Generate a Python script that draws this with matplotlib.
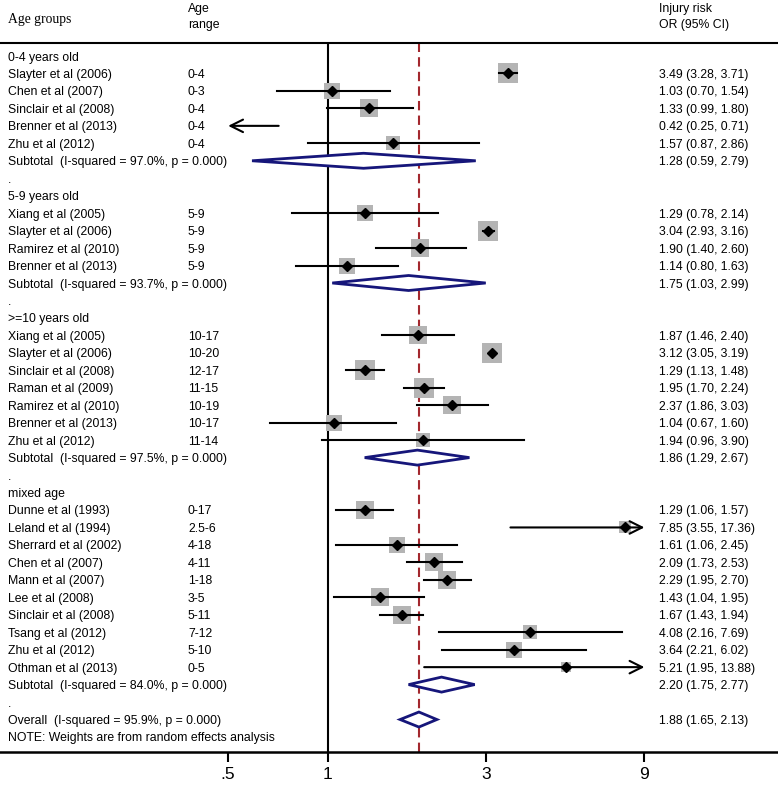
import numpy as np
from matplotlib import pyplot as plt

# study level data
group = ["0-4"] * 5 + ["5-9"] * 4 + [">=10"] * 7 + ["mixed"] * 10
study = ["Slayter et al (2006)", "Chen et al (2007)", "Sinclair et al (2008)", "Brenner et al (2013)", "Zhu et al (2012)",
         "Xiang et al (2005)", "Slayter et al (2006)", "Ramirez et al (2010)", "Brenner et al (2013)",
         "Xiang et al (2005)", "Slayter et al (2006)", "Sinclair et al (2008)", "Raman et al (2009)",
         "Ramirez et al (2010)", "Brenner et al (2013)", "Zhu et al (2012)",
         "Dunne et al (1993)", "Leland et al (1994)", "Sherrard et al (2002)", "Chen et al (2007)", "Mann et al (2007)",
         "Lee et al (2008)", "Sinclair et al (2008)", "Tsang et al (2012)", "Zhu et al (2012)", "Othman et al (2013)"]
age_range = ["0-4", "0-3", "0-4", "0-4", "0-4",
             "5-9", "5-9", "5-9", "5-9",
             "10-17", "10-20", "12-17", "11-15", "10-19", "10-17", "11-14",
             "0-17", "2.5-6", "4-18", "4-11", "1-18", "3-5", "5-11", "7-12", "5-10", "0-5"]
or_est = [3.49, 1.03, 1.33, 0.42, 1.57,
          1.29, 3.04, 1.90, 1.14,
          1.87, 3.12, 1.29, 1.95, 2.37, 1.04, 1.94,
          1.29, 7.85, 1.61, 2.09, 2.29, 1.43, 1.67, 4.08, 3.64, 5.21]
ci_lo = [3.28, 0.70, 0.99, 0.25, 0.87,
         0.78, 2.93, 1.40, 0.80,
         1.46, 3.05, 1.13, 1.70, 1.86, 0.67, 0.96,
         1.06, 3.55, 1.06, 1.73, 1.95, 1.04, 1.43, 2.16, 2.21, 1.95]
ci_hi = [3.71, 1.54, 1.80, 0.71, 2.86,
         2.14, 3.16, 2.60, 1.63,
         2.40, 3.19, 1.48, 2.24, 3.03, 1.60, 3.90,
         1.57, 17.36, 2.45, 2.53, 2.70, 1.95, 1.94, 7.69, 6.02, 13.88]
weight = [10.0, 7.2, 8.1, 7.5, 5.6,
          7.2, 11.0, 8.1, 7.2,
          9.0, 10.0, 10.0, 11.0, 9.0, 6.4, 4.9,
          9.0, 4.2, 7.2, 9.0, 9.0, 9.0, 9.0, 5.6, 6.4, 3.0]

# subgroup pooled estimates
groups = ["0-4", "5-9", ">=10", "mixed"]
group_titles = ["0-4 years old", "5-9 years old", ">=10 years old", "mixed age"]
sub_i2 = [97.0, 93.7, 97.5, 84.0]
sub_est = [1.28, 1.75, 1.86, 2.20]
sub_lo = [0.59, 1.03, 1.29, 1.75]
sub_hi = [2.79, 2.99, 2.67, 2.77]

overall_i2 = 95.9
overall = [1.88, 1.65, 2.13]

xticks = [0.5, 1, 3, 9]
xtick_labels = [".5", "1", "3", "9"]

plt.rcParams['font.family'] = ['Liberation Sans', 'DejaVu Sans']

fig = plt.figure(figsize=(7.78, 7.88), dpi=100)
ax = fig.add_axes([0, 36 / 788, 1, 709 / 788])
ax.set_xscale('log')
ax.set_xlim(np.exp(-328 / 144), np.exp(450 / 144))
ax.set_ylim(39.86, -0.745)

x_lab, x_age, x_or = 8 / 778, 188 / 778, 659 / 778
trans = ax.get_yaxis_transform()  # x in axes fraction, y in data
lo_clip, hi_clip = xticks[0], xticks[-1]
fs = 8.8
navy = '#16167a'


def diamond(y, est, lo, hi, h=0.43):
    ax.fill([lo, est, hi, est, lo], [y, y - h, y, y + h, y], facecolor='white',
            edgecolor=navy, lw=2, zorder=4)


def txt(x, y, s, **kw):
    ax.text(x, y, s, transform=trans, va='center_baseline', fontsize=kw.pop('fontsize', fs),
            clip_on=False, **kw)


row = 0
for g, title, i2, se, sl, sh in zip(groups, group_titles, sub_i2, sub_est, sub_lo, sub_hi):
    txt(x_lab, row, title)
    row += 1
    for i in range(len(study)):
        if group[i] != g:
            continue
        txt(x_lab, row, study[i])
        txt(x_age, row, age_range[i])
        txt(x_or, row, f"{or_est[i]:.2f} ({ci_lo[i]:.2f}, {ci_hi[i]:.2f})")
        lo = max(ci_lo[i], lo_clip)
        hi = min(ci_hi[i], hi_clip)
        if lo_clip <= or_est[i] <= hi_clip:
            side = np.sqrt(weight[i] * 40) * 0.72
            ax.scatter(or_est[i], row, marker='s', s=side ** 2, color='#b4b4b4', lw=0, zorder=2)
            ax.plot(or_est[i], row, marker='D', ms=5.5, color='black', zorder=5)
        arrow = dict(arrowstyle='->,head_length=0.9,head_width=0.45', lw=1.5, color='black',
                     shrinkA=0, shrinkB=0)
        if ci_lo[i] < lo_clip:
            ax.annotate('', xy=(lo, row), xytext=(hi, row), arrowprops=arrow, zorder=3)
        elif ci_hi[i] > hi_clip:
            ax.annotate('', xy=(hi, row), xytext=(lo, row), arrowprops=arrow, zorder=3)
        else:
            ax.plot([lo, hi], [row, row], color='black', lw=1.5, zorder=3)
        row += 1
    txt(x_lab, row, f"Subtotal  (I-squared = {i2:.1f}%, p = 0.000)")
    txt(x_or, row, f"{se:.2f} ({sl:.2f}, {sh:.2f})")
    diamond(row, se, sl, sh)
    row += 1
    txt(x_lab, row, ".")
    row += 1

txt(x_lab, row, f"Overall  (I-squared = {overall_i2:.1f}%, p = 0.000)")
txt(x_or, row, f"{overall[0]:.2f} ({overall[1]:.2f}, {overall[2]:.2f})")
diamond(row, *overall)
row += 1
txt(x_lab, row, "NOTE: Weights are from random effects analysis")

# reference lines
ax.axvline(1, color='black', lw=1.5, zorder=1)
ax.axvline(overall[0], color='#a3282e', lw=1.5, dashes=(4.5, 2.5), zorder=1)

# header above the top rule
txt(8 / 778, -2.18, "Age groups", fontsize=9.8, family='Liberation Serif')
txt(x_age, -2.78, "Age")
txt(x_age, -1.85, "range")
txt(x_or, -2.78, "Injury risk")
txt(x_or, -1.85, "OR (95% CI)")

ax.spines['left'].set_visible(False)
ax.spines['right'].set_visible(False)
ax.spines['top'].set_linewidth(1.5)
ax.spines['bottom'].set_linewidth(1.8)
ax.set_yticks([])
ax.set_xticks(xticks)
ax.set_xticklabels(xtick_labels)
ax.minorticks_off()
ax.tick_params(axis='x', length=7.5, width=1.5, labelsize=12.5, pad=3)

fig.savefig("out.png", dpi=100)
